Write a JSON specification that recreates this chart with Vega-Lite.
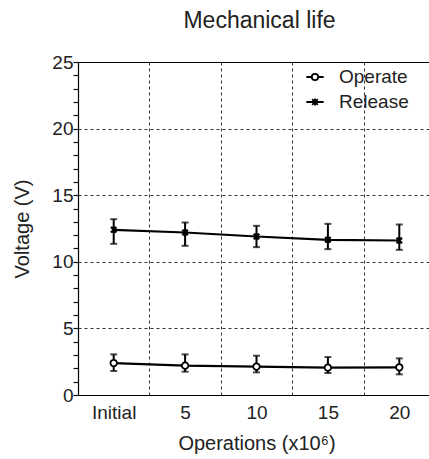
{
  "$schema": "https://vega.github.io/schema/vega-lite/v6.json",
  "width": 351,
  "height": 333,
  "autosize": {"type": "none"},
  "padding": {"left": 78, "top": 62, "right": 0, "bottom": 64},
  "background": "white",
  "title": {"text": "Mechanical life", "fontSize": 23, "font": "Liberation Sans", "fontWeight": "normal", "color": "#222222", "offset": 20, "dx": 6, "anchor": "middle"},
  "config": {
    "font": "Liberation Sans",
    "view": {"stroke": null},
    "axis": {"labelFont": "Liberation Sans", "titleFont": "Liberation Sans", "labelColor": "#222222", "titleColor": "#222222", "titleFontWeight": "normal", "domainColor": "#000000", "domainWidth": 1.2}
  },
  "data": {"values": [
    {"series": "Operate", "ops": "Initial", "v": 2.4, "lo": 1.8, "hi": 3.05},
    {"series": "Operate", "ops": "5", "v": 2.2, "lo": 1.75, "hi": 3.05},
    {"series": "Operate", "ops": "10", "v": 2.13, "lo": 1.7, "hi": 2.95},
    {"series": "Operate", "ops": "15", "v": 2.05, "lo": 1.65, "hi": 2.85},
    {"series": "Operate", "ops": "20", "v": 2.08, "lo": 1.55, "hi": 2.75},
    {"series": "Release", "ops": "Initial", "v": 12.4, "lo": 11.35, "hi": 13.2},
    {"series": "Release", "ops": "5", "v": 12.2, "lo": 11.2, "hi": 12.95},
    {"series": "Release", "ops": "10", "v": 11.9, "lo": 11.1, "hi": 12.7},
    {"series": "Release", "ops": "15", "v": 11.65, "lo": 10.95, "hi": 12.85},
    {"series": "Release", "ops": "20", "v": 11.6, "lo": 10.9, "hi": 12.8}
  ]},
  "encoding": {
    "x": {
      "field": "ops", "type": "nominal", "sort": null,
      "scale": {"type": "band", "domain": ["Initial", "5", "10", "15", "20"], "range": [0, 357], "paddingInner": 0, "paddingOuter": 0},
      "axis": {"title": "Operations (x10⁶)", "labelAngle": 0, "ticks": false, "tickBand": "extent", "grid": true, "gridDash": [3, 3], "gridColor": "#333333", "gridWidth": 1, "labelPadding": 8, "labelFontSize": 19, "titleFontSize": 20, "titlePadding": 11}
    },
    "y": {
      "field": "v", "type": "quantitative",
      "scale": {"domain": [0, 25], "nice": false},
      "axis": {
        "title": "Voltage (V)",
        "values": [0,1,2,3,4,5,6,7,8,9,10,11,12,13,14,15,16,17,18,19,20,21,22,23,24,25],
        "labelExpr": "datum.value % 5 === 0 ? datum.label : ''",
        "labelOverlap": false,
        "tickSize": 5, "tickColor": "#111111", "tickWidth": 1.2,
        "labelPadding": 0, "labelFontSize": 19, "titleFontSize": 20, "titlePadding": 19,
        "encode": {"ticks": {"update": {"x2": {"value": 5}}}},
        "grid": true,
        "gridOpacity": {"condition": {"test": "datum.value % 5 === 0 && datum.value > 0", "value": 1}, "value": 0},
        "gridDash": {"condition": {"test": "datum.value === 25", "value": []}, "value": [3, 3]},
        "gridColor": {"condition": {"test": "datum.value === 25", "value": "#000000"}, "value": "#333333"},
        "gridWidth": {"condition": {"test": "datum.value === 25", "value": 1.2}, "value": 1}
      }
    }
  },
  "layer": [
    {
      "mark": {"type": "line", "color": "black", "strokeWidth": 2.2},
      "encoding": {"detail": {"field": "series"}}
    },
    {
      "mark": {"type": "errorbar", "ticks": true, "size": 7, "thickness": 2, "color": "black"},
      "encoding": {
        "y": {"field": "lo", "type": "quantitative"},
        "y2": {"field": "hi"},
        "detail": {"field": "series"}
      }
    },
    {
      "transform": [{"filter": "datum.series === 'Operate'"}],
      "mark": {"type": "point", "shape": "circle", "filled": true, "fill": "white", "stroke": "black", "strokeWidth": 1.8, "size": 42, "opacity": 1}
    },
    {
      "transform": [{"filter": "datum.series === 'Release'"}],
      "mark": {"type": "point", "shape": "M-1,-1L1,1M-1,1L1,-1M0,-1.2L0,1.2", "filled": false, "stroke": "black", "strokeWidth": 2.2, "size": 30, "opacity": 1}
    },
    {
      "transform": [{"filter": "false"}],
      "mark": {"type": "point", "filled": false, "color": "black", "strokeWidth": 1.8, "opacity": 1},
      "encoding": {
        "shape": {
          "field": "series", "type": "nominal",
          "scale": {"domain": ["Operate", "Release"], "range": [
            "M-1,0L-0.37,0M0.37,0L1,0M-0.37,0A0.37,0.37,0,1,1,0.37,0A0.37,0.37,0,1,1,-0.37,0Z",
            "M-1,0L1,0M-0.33,-0.33L0.33,0.33M-0.33,0.33L0.33,-0.33M0,-0.4L0,0.4"
          ]},
          "legend": {
            "orient": "none", "legendX": 227, "legendY": 5, "title": null,
            "labelFontSize": 19, "labelFont": "Liberation Sans", "labelColor": "#222222",
            "symbolSize": 300, "symbolStrokeWidth": 1.8, "symbolStrokeColor": "black", "symbolFillColor": "white",
            "rowPadding": 5, "labelOffset": 14, "padding": 0,
            "encode": {"symbols": {"update": {"fill": {"value": "white"}, "stroke": {"value": "black"}, "strokeWidth": {"value": 1.8}, "opacity": {"value": 1}}}}
          }
        }
      }
    }
  ]
}
